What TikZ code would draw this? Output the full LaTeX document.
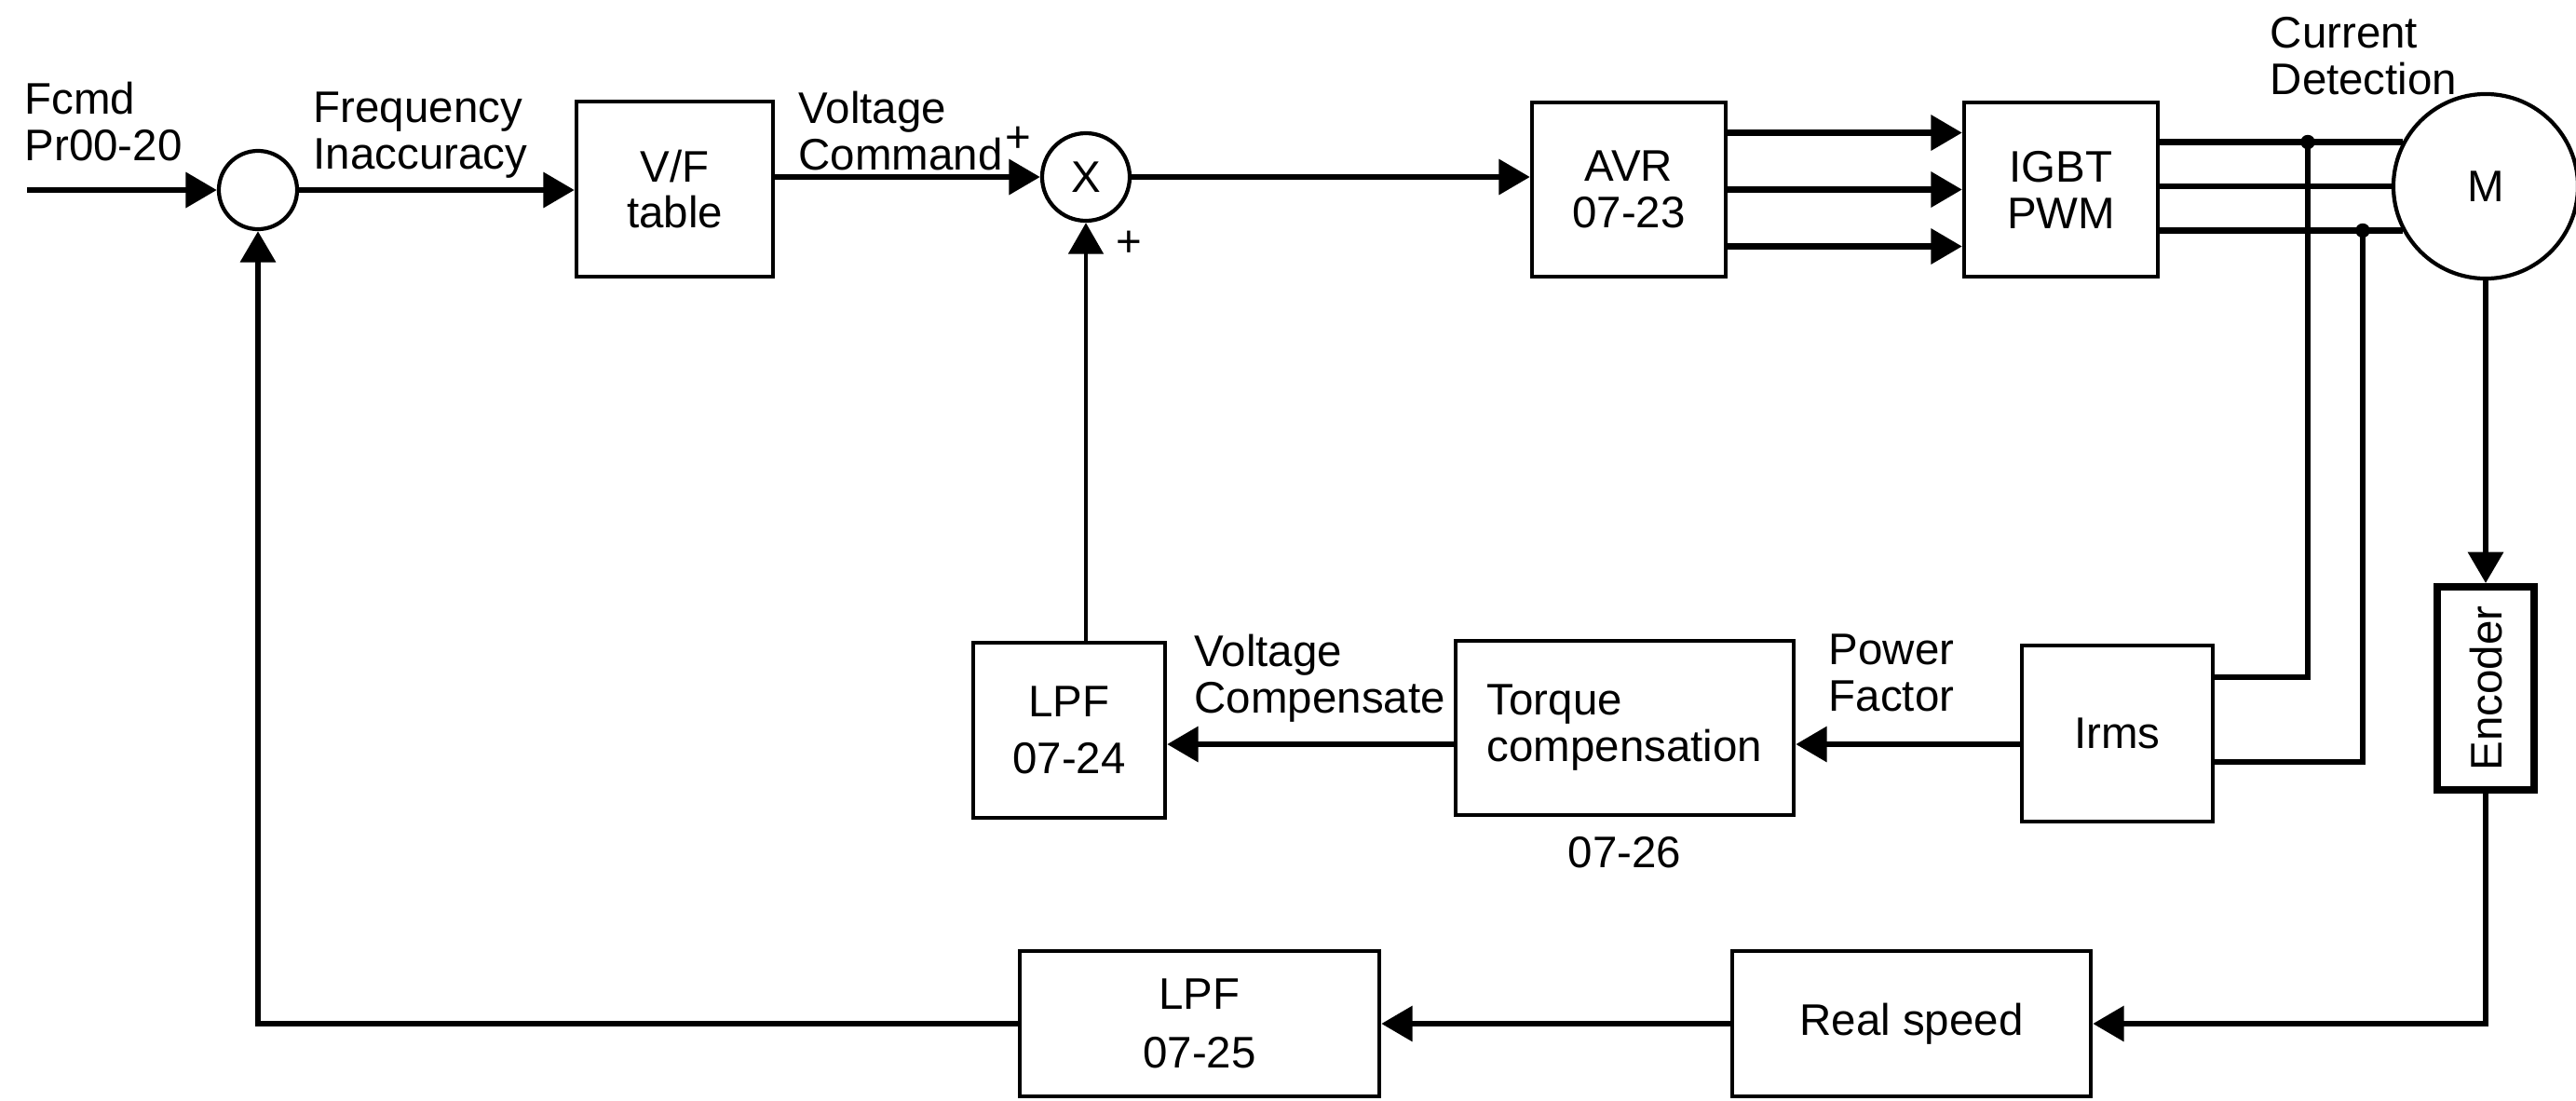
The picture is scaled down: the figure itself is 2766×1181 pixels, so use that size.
\documentclass[tikz,border=0pt]{standalone}
\usepackage{fontspec}
\setmainfont{Liberation Sans}
\usetikzlibrary{arrows.meta,positioning,calc}
\newcommand{\dgfont}{\fontsize{13.5pt}{14.2pt}\selectfont}
\tikzset{
  blkbox/.style ={rectangle, draw=black, line width=1.2pt, align=center,
                  font=\dgfont, inner sep=0pt},
  encbox/.style ={blkbox, line width=2.2pt},
  junc/.style   ={circle, draw=black, line width=1.2pt, inner sep=0pt,
                  font=\dgfont},
  sig/.style    ={font=\dgfont, align=left, inner sep=0pt, anchor=north west},
  flow/.style   ={-{Triangle[length=9.5pt,width=10.5pt]}, line width=1.9pt},
  wire/.style   ={line width=1.9pt}
}

\begin{document}
\begin{tikzpicture}[x=0.01cm, y=-0.01cm]
  \useasboundingbox (0,0) rectangle (2766,1181);
  % forward path
  \coordinate (in) at (29,204);
  \node[junc, minimum size=0.84cm]  (sum)   at (277,204)    {};
  \node[blkbox, minimum width=2.11cm, minimum height=1.88cm] (vf)   at (724.5,203)  {V/F\\table};
  \node[junc, minimum size=0.94cm]  (mult)  at (1166,190)   {X};
  \node[blkbox, minimum width=2.08cm, minimum height=1.87cm] (avr)  at (1749,203.5) {AVR\\07-23};
  \node[blkbox, minimum width=2.08cm, minimum height=1.87cm] (igbt) at (2213,203.5) {IGBT\\PWM};
  \node[junc, minimum size=1.98cm]  (motor) at (2669,200)   {M};
  % feedback blocks
  \node[blkbox, minimum width=2.06cm, minimum height=1.88cm] (lpfa)  at (1148,784)    {LPF\\[3pt]07-24};
  \node[blkbox, minimum width=3.63cm, minimum height=1.87cm, align=left] (torq) at (1744.5,781.5) {Torque\\compensation};
  \node[below=0.2cm of torq, font=\dgfont, inner sep=0pt] (torqpar) {07-26};
  \node[blkbox, minimum width=2.05cm, minimum height=1.89cm] (irms)  at (2273.5,787.5) {Irms};
  \node[encbox, minimum width=1.04cm, minimum height=2.18cm] (enc)   at (2669,739)    {\rotatebox{90}{Encoder}};
  \node[blkbox, minimum width=3.86cm, minimum height=1.56cm] (lpfb)  at (1288,1099)   {LPF\\[3.5pt]07-25};
  \node[blkbox, minimum width=3.85cm, minimum height=1.56cm] (speed) at (2052.5,1099) {Real speed};
  % signal labels
  \node[sig] (fcmd)    at (26,87)    {Fcmd\\Pr00-20};
  \node[sig] (freqerr) at (336,98)   {Frequency\\Inaccuracy};
  \node[sig] (vcmd)    at (857,97)   {Voltage\\Command};
  \node[font=\dgfont, inner sep=0pt] (plusa) at (1093,150) {+};
  \node[font=\dgfont, inner sep=0pt] (plusb) at (1212,262) {+};
  \node[sig] (vcomp)   at (1282,680) {Voltage\\Compensate};
  \node[sig] (pfac)    at (1963,680) {Power\\Factor};
  \node[sig] (cdet)    at (2437,18)  {Current\\Detection};
  % connectors
  \draw[flow] (in) -- (sum.west);
  \draw[flow] (sum.east) -- (sum.east -| vf.west);
  \draw[flow] (vf.east |- mult) -- (mult.west);
  \draw[flow] (mult.east) -- (mult.east -| avr.west);
  \foreach \dy in {-61,0,61}
    \draw[flow] ($(avr.east)+(0,\dy)$) -- ($(igbt.west)+(0,\dy)$);
  \foreach \ang in {152,180,208}
    \draw[wire] (motor.\ang -| igbt.east) -- (motor.\ang);
  % current detection taps
  \coordinate (tapa) at (2478,0 |- motor.152);
  \coordinate (tapb) at (2537,0 |- motor.208);
  \fill (tapa) circle (2.2pt);
  \fill (tapb) circle (2.2pt);
  \draw[wire] (tapa) |- ($(irms.east)+(0,-60.5)$);
  \draw[wire] (tapb) |- ($(irms.east)+(0,30.5)$);
  \draw[flow] (irms.west |- 0,799) -- (torq.east |- 0,799);
  \draw[flow] (torq.west |- 0,799) -- (lpfa.east |- 0,799);
  \draw[flow, line width=1.4pt] (mult.south |- lpfa.north) -- (mult.south);
  % speed loop
  \draw[flow] (motor.south) -- (enc.north);
  \draw[flow] (enc.south) |- (speed.east);
  \draw[flow] (speed.west) -- (lpfb.east);
  \draw[flow] (lpfb.west) -| (sum.south);
\end{tikzpicture}
\end{document}
